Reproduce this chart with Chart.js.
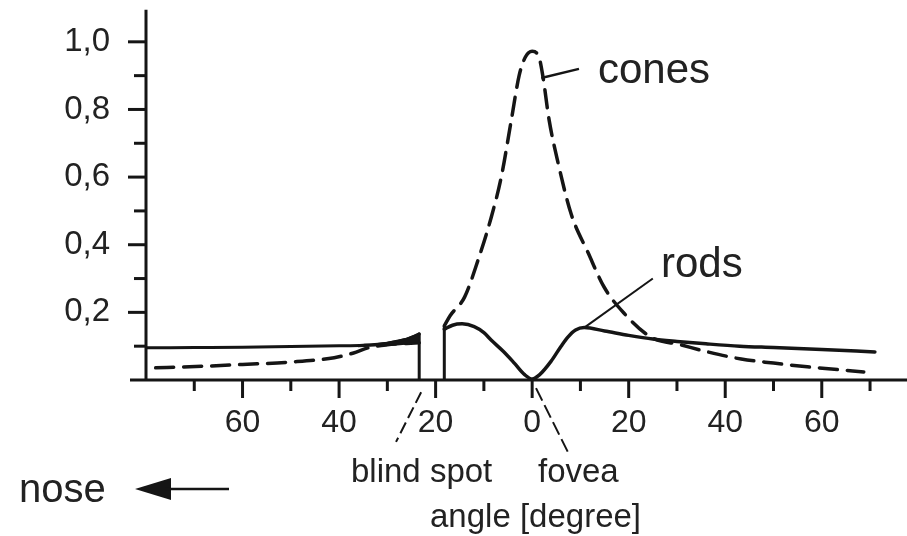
<!DOCTYPE html>
<html>
<head>
<meta charset="utf-8">
<script src="https://cdn.jsdelivr.net/npm/chart.js@4.4.1/dist/chart.umd.min.js"></script>
<style>
  html, body { margin: 0; padding: 0; background: #fff; }
</style>
</head>
<body>
<canvas id="chart" width="907" height="536"></canvas>
<script>
// receptor density across the retina, angle in degrees (negative = nasal side)
const rodsNasal = [[-80, 0.095], [-70, 0.096], [-60, 0.097], [-50, 0.099], [-40, 0.101], [-35, 0.103], [-30, 0.109], [-26, 0.121], [-23.4, 0.136]];
const rodsTemporal = [[-18.2, 0.15], [-16.5, 0.162], [-14.5, 0.166], [-12, 0.158], [-10, 0.14], [-8.5, 0.118], [-6, 0.085], [-3.7, 0.05], [-1.5, 0.015], [0, 0.003], [1.5, 0.015], [3.9, 0.055], [6, 0.1], [7.4, 0.127], [9, 0.148], [10.8, 0.155], [15, 0.145], [20, 0.132], [25, 0.121], [30, 0.114], [36, 0.107], [43, 0.1], [50, 0.096], [60, 0.09], [71, 0.083]];
const conesNasal = [[-78, 0.036], [-71, 0.039], [-60, 0.046], [-50, 0.053], [-41, 0.066], [-37, 0.08], [-34, 0.095], [-30, 0.104], [-26, 0.108], [-23.4, 0.11]];
const conesTemporal = [[-18.2, 0.16], [-17, 0.19], [-14, 0.245], [-11.2, 0.355], [-8.5, 0.48], [-6.4, 0.6], [-4.3, 0.77], [-2.7, 0.9], [-1.4, 0.955], [0, 0.972], [1.4, 0.955], [2.2, 0.9], [3.5, 0.77], [5.4, 0.64], [8.1, 0.49], [11.6, 0.376], [14.9, 0.275], [19, 0.198], [24.6, 0.127], [30.8, 0.104], [36.4, 0.083], [43.3, 0.062], [50, 0.05], [57, 0.039], [68.7, 0.024]];
// overlap of rods and cones just before the blind spot
const overlapWedge = [[-36, 0.1], [-30, 0.111], [-26, 0.123], [-23.4, 0.137], [-23.4, 0.11], [-28, 0.104], [-36, 0.099]];
// blind spot edges: both densities drop to zero
const blindSpotEdges = [[[-23.4, 0], [-23.4, 0.137]], [[-18.2, 0], [-18.2, 0.16]]];

const xTicks = [-60, -40, -20, 0, 20, 40, 60];
const yTicks = [0.2, 0.4, 0.6, 0.8, 1.0];

const ink = '#151515';
const textInk = '#222';
const toXY = pts => pts.map(([x, y]) => ({ x, y }));

// hand drawn axes with long ticks on the even steps and short ones in between
const axesPlugin = {
    id: 'axes',
    afterDatasetsDraw(chart) {
        const { ctx } = chart;
        const xs = chart.scales.x;
        const ys = chart.scales.y;
        const y0 = ys.getPixelForValue(0);
        const x0 = xs.getPixelForValue(-80);
        ctx.save();
        ctx.strokeStyle = ink;
        ctx.lineWidth = 3;
        ctx.lineCap = 'butt';
        ctx.beginPath();
        ctx.moveTo(x0 - 16, y0);
        ctx.lineTo(chart.width, y0);
        ctx.moveTo(x0, y0);
        ctx.lineTo(x0, ys.getPixelForValue(1.095));
        ctx.stroke();

        for (let v = -70; v <= 70; v += 10) {
            const px = xs.getPixelForValue(v);
            const len = v % 20 === 0 ? 18 : 11;
            ctx.beginPath();
            ctx.moveTo(px, y0);
            ctx.lineTo(px, y0 + len);
            ctx.stroke();
        }
        for (let i = 1; i <= 10; i++) {
            const py = ys.getPixelForValue(i / 10);
            const len = i % 2 === 0 ? 18 : 12;
            ctx.beginPath();
            ctx.moveTo(x0, py);
            ctx.lineTo(x0 - len, py);
            ctx.stroke();
        }
        ctx.restore();
    }
};

// labels and pointer lines
const notesPlugin = {
    id: 'notes',
    afterDraw(chart) {
        const { ctx } = chart;
        const xs = chart.scales.x;
        const ys = chart.scales.y;
        const P = (x, y) => [xs.getPixelForValue(x), ys.getPixelForValue(y)];

        function leader(a, b, width, dash) {
            ctx.save();
            ctx.strokeStyle = ink;
            ctx.lineWidth = width;
            ctx.setLineDash(dash || []);
            ctx.beginPath();
            ctx.moveTo(...P(...a));
            ctx.lineTo(...P(...b));
            ctx.stroke();
            ctx.restore();
        }
        leader([1.9, 0.893], [9.7, 0.92], 2.5);
        leader([10.8, 0.155], [25, 0.3], 2);
        leader([-23, -0.036], [-28.2, -0.183], 2, [12, 5]);
        leader([0.8, -0.024], [7.4, -0.213], 2, [14, 5]);

        ctx.save();
        ctx.fillStyle = textInk;
        ctx.textBaseline = 'alphabetic';
        ctx.textAlign = 'left';
        ctx.font = '42px "Liberation Sans", Arial, sans-serif';
        ctx.fillText('cones', 598, 83);
        ctx.fillText('rods', 661, 277);
        ctx.font = '40px "Liberation Sans", Arial, sans-serif';
        ctx.fillText('nose', 19, 502);
        ctx.font = '33px "Liberation Sans", Arial, sans-serif';
        ctx.fillText('blind spot', 351, 482);
        ctx.fillText('fovea', 538, 482);
        ctx.fillText('angle [degree]', 430, 527);

        // arrow pointing towards the nose
        ctx.fillStyle = ink;
        ctx.beginPath();
        ctx.moveTo(135, 489);
        ctx.lineTo(171, 478);
        ctx.lineTo(171, 500);
        ctx.closePath();
        ctx.fill();
        ctx.strokeStyle = ink;
        ctx.lineWidth = 2.5;
        ctx.beginPath();
        ctx.moveTo(165, 489);
        ctx.lineTo(229, 489);
        ctx.stroke();
        ctx.restore();
    }
};

const solid = (pts, w) => ({
    data: toXY(pts), borderColor: ink, borderWidth: w, fill: false
});
const dashed = pts => ({
    data: toXY(pts), borderColor: ink, borderWidth: 3.5, borderDash: [18, 10], fill: false
});

const datasets = [
    { data: toXY(overlapWedge), borderColor: ink, backgroundColor: ink, borderWidth: 1.5, fill: 'shape', cubicInterpolationMode: 'default', tension: 0 },
    solid(rodsNasal, 3),
    solid(rodsTemporal, 3.5),
    dashed(conesNasal),
    dashed(conesTemporal),
    ...blindSpotEdges.map(edge => ({ data: toXY(edge), borderColor: ink, borderWidth: 3, cubicInterpolationMode: 'default', tension: 0, fill: false }))
];

const ctx = document.getElementById('chart').getContext('2d');
new Chart(ctx, {
    type: 'line',
    data: { datasets: datasets },
    options: {
        responsive: false,
        animation: false,
        layout: { padding: { top: 8, right: 8, left: 0, bottom: 0 } },
        elements: {
            point: { radius: 0 },
            line: { cubicInterpolationMode: 'monotone', borderCapStyle: 'round', borderJoinStyle: 'round' }
        },
        plugins: {
            legend: { display: false },
            tooltip: { enabled: false }
        },
        scales: {
            x: {
                type: 'linear',
                min: -80,
                max: 76,
                afterBuildTicks: s => { s.ticks = xTicks.map(v => ({ value: v })); },
                afterFit: s => { s.height = 156; s.paddingLeft = 0; s.paddingRight = 0; },
                grid: { display: false, drawTicks: false },
                border: { display: false },
                ticks: {
                    padding: 24,
                    color: textInk,
                    font: { family: '"Liberation Sans", Arial, sans-serif', size: 32 },
                    callback: v => String(Math.abs(v))
                }
            },
            y: {
                type: 'linear',
                min: 0,
                max: 1.1,
                afterBuildTicks: s => { s.ticks = yTicks.map(v => ({ value: v })); },
                afterFit: s => { s.width = 146; s.paddingTop = 0; s.paddingBottom = 0; },
                grid: { display: false, drawTicks: false },
                border: { display: false },
                ticks: {
                    padding: 36,
                    color: textInk,
                    font: { family: '"Liberation Sans", Arial, sans-serif', size: 33 },
                    callback: v => v.toFixed(1).replace('.', ',')
                }
            }
        }
    },
    plugins: [axesPlugin, notesPlugin]
});
</script>
</body>
</html>
